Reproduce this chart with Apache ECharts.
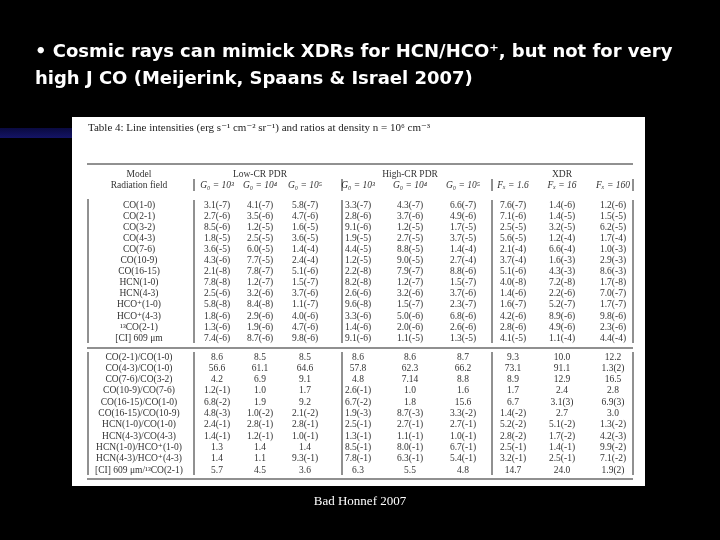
<!DOCTYPE html>
<html><head><meta charset="utf-8">
<script src="https://cdn.jsdelivr.net/npm/echarts@6/dist/echarts.min.js"></script>
<style>html,body{margin:0;background:#000}#c{width:720px;height:540px}</style>
</head><body><div id="c"></div>
<script>
const titleLines = ['• Cosmic rays can mimick XDRs for HCN/HCO⁺, but not for very', 'high J CO (Meijerink, Spaans & Israel 2007)'];
const tableCaption = 'Table 4: Line intensities (erg s⁻¹ cm⁻² sr⁻¹) and ratios at density n = 10⁶ cm⁻³';
const groups = ['Low-CR PDR', 'High-CR PDR', 'XDR'];
const colHeaders = ['G₀ = 10³','G₀ = 10⁴','G₀ = 10⁵','G₀ = 10³','G₀ = 10⁴','G₀ = 10⁵','Fₓ = 1.6','Fₓ = 16','Fₓ = 160'];
const lineLabels = ['CO(1-0)','CO(2-1)','CO(3-2)','CO(4-3)','CO(7-6)','CO(10-9)','CO(16-15)','HCN(1-0)','HCN(4-3)','HCO⁺(1-0)','HCO⁺(4-3)','¹³CO(2-1)','[CI] 609 μm'];
const lineValues = [
['3.1(-7)','4.1(-7)','5.8(-7)','3.3(-7)','4.3(-7)','6.6(-7)','7.6(-7)','1.4(-6)','1.2(-6)'],
['2.7(-6)','3.5(-6)','4.7(-6)','2.8(-6)','3.7(-6)','4.9(-6)','7.1(-6)','1.4(-5)','1.5(-5)'],
['8.5(-6)','1.2(-5)','1.6(-5)','9.1(-6)','1.2(-5)','1.7(-5)','2.5(-5)','3.2(-5)','6.2(-5)'],
['1.8(-5)','2.5(-5)','3.6(-5)','1.9(-5)','2.7(-5)','3.7(-5)','5.6(-5)','1.2(-4)','1.7(-4)'],
['3.6(-5)','6.0(-5)','1.4(-4)','4.4(-5)','8.8(-5)','1.4(-4)','2.1(-4)','6.6(-4)','1.0(-3)'],
['4.3(-6)','7.7(-5)','2.4(-4)','1.2(-5)','9.0(-5)','2.7(-4)','3.7(-4)','1.6(-3)','2.9(-3)'],
['2.1(-8)','7.8(-7)','5.1(-6)','2.2(-8)','7.9(-7)','8.8(-6)','5.1(-6)','4.3(-3)','8.6(-3)'],
['7.8(-8)','1.2(-7)','1.5(-7)','8.2(-8)','1.2(-7)','1.5(-7)','4.0(-8)','7.2(-8)','1.7(-8)'],
['2.5(-6)','3.2(-6)','3.7(-6)','2.6(-6)','3.2(-6)','3.7(-6)','1.4(-6)','2.2(-6)','7.0(-7)'],
['5.8(-8)','8.4(-8)','1.1(-7)','9.6(-8)','1.5(-7)','2.3(-7)','1.6(-7)','5.2(-7)','1.7(-7)'],
['1.8(-6)','2.9(-6)','4.0(-6)','3.3(-6)','5.0(-6)','6.8(-6)','4.2(-6)','8.9(-6)','9.8(-6)'],
['1.3(-6)','1.9(-6)','4.7(-6)','1.4(-6)','2.0(-6)','2.6(-6)','2.8(-6)','4.9(-6)','2.3(-6)'],
['7.4(-6)','8.7(-6)','9.8(-6)','9.1(-6)','1.1(-5)','1.3(-5)','4.1(-5)','1.1(-4)','4.4(-4)']];
const ratioLabels = ['CO(2-1)/CO(1-0)','CO(4-3)/CO(1-0)','CO(7-6)/CO(3-2)','CO(10-9)/CO(7-6)','CO(16-15)/CO(1-0)','CO(16-15)/CO(10-9)','HCN(1-0)/CO(1-0)','HCN(4-3)/CO(4-3)','HCN(1-0)/HCO⁺(1-0)','HCN(4-3)/HCO⁺(4-3)','[CI] 609 μm/¹³CO(2-1)'];
const ratioValues = [
['8.6','8.5','8.5','8.6','8.6','8.7','9.3','10.0','12.2'],
['56.6','61.1','64.6','57.8','62.3','66.2','73.1','91.1','1.3(2)'],
['4.2','6.9','9.1','4.8','7.14','8.8','8.9','12.9','16.5'],
['1.2(-1)','1.0','1.7','2.6(-1)','1.0','1.6','1.7','2.4','2.8'],
['6.8(-2)','1.9','9.2','6.7(-2)','1.8','15.6','6.7','3.1(3)','6.9(3)'],
['4.8(-3)','1.0(-2)','2.1(-2)','1.9(-3)','8.7(-3)','3.3(-2)','1.4(-2)','2.7','3.0'],
['2.4(-1)','2.8(-1)','2.8(-1)','2.5(-1)','2.7(-1)','2.7(-1)','5.2(-2)','5.1(-2)','1.3(-2)'],
['1.4(-1)','1.2(-1)','1.0(-1)','1.3(-1)','1.1(-1)','1.0(-1)','2.8(-2)','1.7(-2)','4.2(-3)'],
['1.3','1.4','1.4','8.5(-1)','8.0(-1)','6.7(-1)','2.5(-1)','1.4(-1)','9.9(-2)'],
['1.4','1.1','9.3(-1)','7.8(-1)','6.3(-1)','5.4(-1)','3.2(-1)','2.5(-1)','7.1(-2)'],
['5.7','4.5','3.6','6.3','5.5','4.8','14.7','24.0','1.9(2)']];
const footer = 'Bad Honnef 2007';

const colX = [217,260,305,358,410,463,513,562,613], labelX = 139;
const serif = '"Liberation Serif","DejaVu Serif",serif', ink = '#333';
const g = [];
const txt = (x,y,s,o={}) => g.push({type:'text',x,y,style:Object.assign({text:s,fill:ink,font:'9.5px '+serif,align:'center',verticalAlign:'middle'},o)});
const line = (x1,y1,x2,y2,w=1) => g.push({type:'line',shape:{x1,y1,x2,y2},style:{stroke:'#222',lineWidth:w}});
g.push({type:'rect',shape:{x:0,y:128,width:72,height:10},style:{fill:new echarts.graphic.LinearGradient(0,0,0,1,[{offset:0,color:'#0a0a40'},{offset:1,color:'#141466'}])}});
g.push({type:'rect',shape:{x:72,y:117,width:573,height:369},style:{fill:'#fff'}});
titleLines.forEach((t,i)=>g.push({type:'text',x:35,y:52+i*27,style:{text:t,fill:'#fff',font:'bold 18px "DejaVu Sans",sans-serif',verticalAlign:'middle'}}));
txt(88,128,tableCaption,{align:'left',font:'11px '+serif,fill:'#222'});
line(87,164,633,164);
txt(labelX,174,'Model'); txt(labelX,185,'Radiation field');
groups.forEach((s,i)=>txt(colX[i*3+1],174,s));
colHeaders.forEach((s,i)=>txt(colX[i],185,s,{font:'italic 9.5px '+serif}));
const vl=[194,342,492,633];
vl.forEach((x,i)=>{ line(x,179,x,191); line(x,200,x,343); line(x,352,x,475); });
line(88,199,88,343); line(88,352,88,475);
const r0=205, dr=11.1, q0=357, dq=11.33;
lineLabels.forEach((s,i)=>{ txt(labelX,r0+i*dr,s); lineValues[i].forEach((v,j)=>txt(colX[j],r0+i*dr,v)); });
line(87,348,633,348,1.2);
ratioLabels.forEach((s,i)=>{ txt(labelX,q0+i*dq,s); ratioValues[i].forEach((v,j)=>txt(colX[j],q0+i*dq,v)); });
line(87,479,633,479,1.2);
g.push({type:'text',x:360,y:502,style:{text:footer,fill:'#fff',font:'13px '+serif,align:'center',verticalAlign:'middle'}});
const chart = echarts.init(document.getElementById('c'));
chart.setOption({backgroundColor:'#000',graphic:{elements:g}});
</script></body></html>
